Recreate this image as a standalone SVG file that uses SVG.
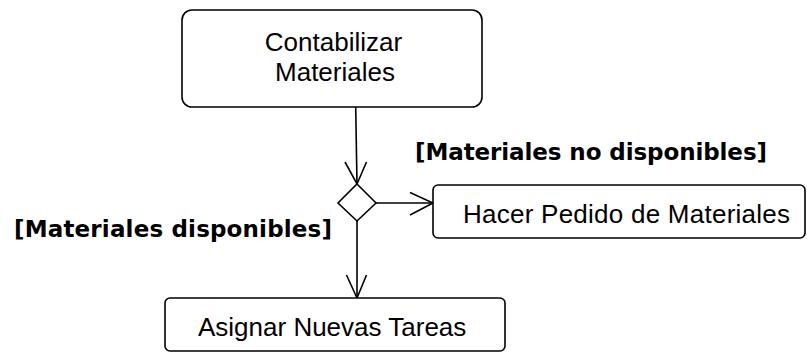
<svg xmlns="http://www.w3.org/2000/svg" width="807" height="354" viewBox="0 0 807 354">
<style>
.box{fill:#fff;stroke:#000;stroke-width:1.6}
.lbl{font-family:"Liberation Sans",Arial,sans-serif;font-size:26px;fill:#000}
.grd{font-family:"DejaVu Sans",Verdana,sans-serif;font-weight:bold;font-size:23px;fill:#000}
.ln{fill:none;stroke:#000;stroke-width:1.6}
</style>
<rect width="807" height="354" fill="#fff"/>
<g id="connectors">
<path class="ln" d="M355.7,107 L357,184"/>
<path class="ln" d="M345,162 L357,184 L366.5,162"/>
<path class="ln" d="M376,203 L433,203"/>
<path class="ln" d="M410,192.5 L433,203 L410,215"/>
<path class="ln" d="M357,221 L357,298"/>
<path class="ln" d="M346.5,275 L357,298 L366.5,275"/>
</g>
<g id="contabilizar">
<rect class="box" x="182" y="10" width="300" height="97" rx="10"/>
<text class="lbl" text-anchor="middle"><tspan x="333.5" y="51">Contabilizar</tspan><tspan x="335" y="81">Materiales</tspan></text>
</g>
<g id="decision">
<path class="box" d="M357,184 L376,203 L357,221 L338,203 Z"/>
</g>
<g id="hacer">
<rect class="box" x="433" y="185" width="372" height="53" rx="5"/>
<text class="lbl" x="463" y="223" textLength="327">Hacer Pedido de Materiales</text>
</g>
<g id="asignar">
<rect class="box" x="165" y="298" width="340" height="53" rx="5"/>
<text class="lbl" x="198" y="336">Asignar Nuevas Tareas</text>
</g>
<g id="guards">
<text class="grd" x="415" y="160" textLength="352">[Materiales no disponibles]</text>
<text class="grd" x="14" y="237" textLength="318">[Materiales disponibles]</text>
</g>
</svg>
